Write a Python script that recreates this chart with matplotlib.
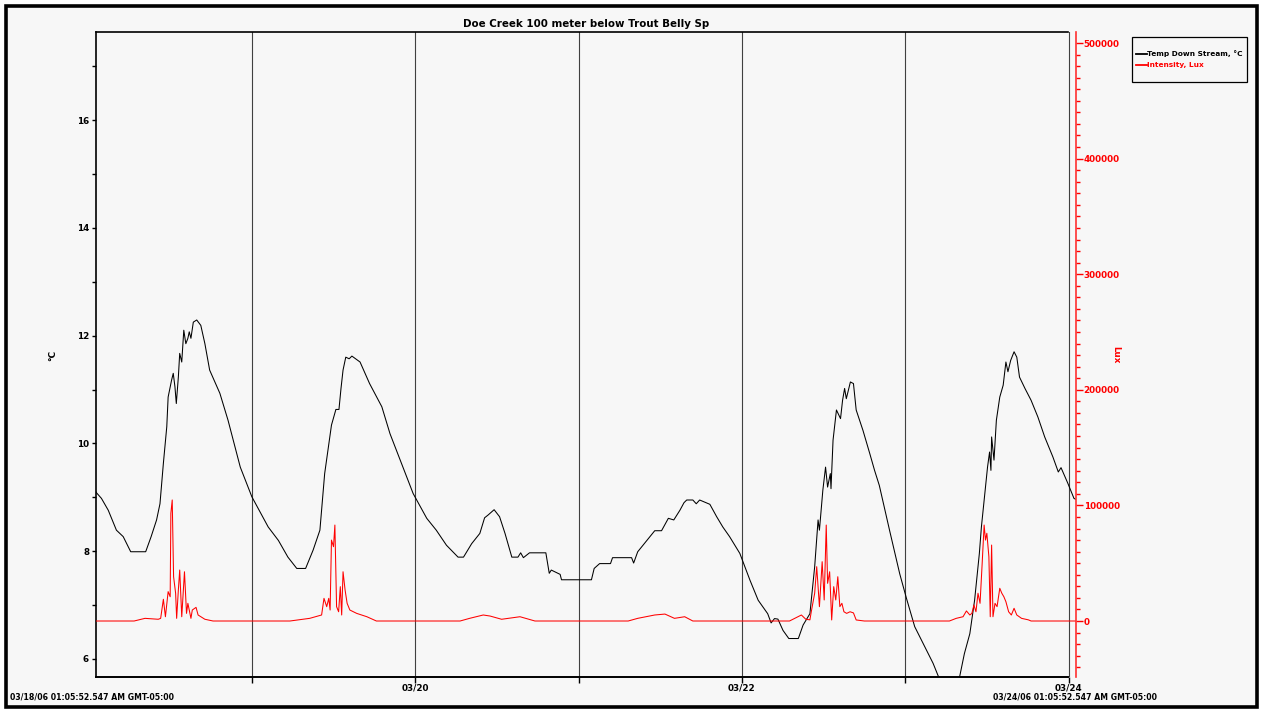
import matplotlib
matplotlib.use("Agg")
import matplotlib.pyplot as plt
import matplotlib.dates as mdates
from matplotlib.patches import Rectangle
from matplotlib.lines import Line2D
from matplotlib.ticker import MultipleLocator, FixedLocator, FuncFormatter
import numpy as np
import pandas as pd

# ---------------- data ----------------
title = "Doe Creek 100 meter below Trout Belly Sp"
start_label = "03/18/06 01:05:52.547 AM GMT-05:00"
end_label = "03/24/06 01:05:52.547 AM GMT-05:00"
start_time = pd.Timestamp("2006-03-18 01:05:52.547")
end_time = pd.Timestamp("2006-03-24 01:05:52.547")

temp_name = "Temp Down Stream, \u00b0C"
lux_name = "Intensity, Lux"

# hours since start, temperature (deg C)
temp_hours = [0.0, 0.1, 0.8, 1.8, 3.0, 4.0, 5.1, 7.3, 8.1, 8.9, 9.4, 9.9, 10.4, 10.6, 11.1, 11.35,
              11.6, 11.8, 12.1, 12.3, 12.6, 12.9, 13.2, 13.5, 13.7, 13.95, 14.3, 14.8, 15.4, 16.0,
              16.7, 18.2, 19.4, 21.2, 22.9, 25.3, 26.8, 28.2, 29.5, 30.8, 31.9, 32.9, 33.6, 34.6,
              35.25, 35.7, 36.0, 36.3, 36.7, 37.2, 37.6, 38.8, 40.2, 42.0, 43.2, 44.7, 46.6, 48.6,
              50.0, 51.5, 53.2, 54.0, 55.2, 56.4, 57.1, 57.6, 58.5, 59.3, 60.1, 61.1, 62.0, 62.4,
              62.8, 63.7, 66.1, 66.6, 66.9, 68.2, 68.4, 72.8, 73.2, 74.0, 75.6, 75.9, 78.7, 79.0,
              79.6, 81.4, 82.1, 83.1, 84.1, 84.9, 85.8, 86.4, 86.8, 87.7, 88.2, 88.7, 90.2, 91.2,
              92.1, 93.1, 94.6, 96.1, 97.3, 98.7, 99.2, 99.7, 100.2, 100.95, 101.8, 103.2, 103.9,
              104.9, 105.6, 106.1, 106.3, 106.8, 107.2, 107.5, 107.9, 108.0, 108.3, 108.8, 109.4,
              109.7, 110.0, 110.25, 110.85, 111.3, 111.7, 112.7, 113.7, 114.4, 115.1, 116.6, 118.1,
              119.1, 120.3, 121.8, 123.0, 123.8, 124.6, 126.0, 126.9, 127.6, 128.4, 129.1,
              129.8, 130.1, 130.5, 131.0, 131.3, 131.5, 131.6, 131.95, 132.3, 132.8, 133.3, 133.7,
              134.0, 134.4, 134.9, 135.3, 135.7, 136.5, 137.4, 138.4, 139.4, 140.6, 141.4, 141.8,
              142.8, 143.7, 144.0]
temp_vals = [9.10, 9.08, 8.98, 8.76, 8.39, 8.27, 7.99, 7.99, 8.27, 8.58, 8.88, 9.63, 10.31, 10.86,
             11.17, 11.30, 11.05, 10.74, 11.23, 11.67, 11.51, 12.10, 11.85, 11.95, 12.07, 11.95,
             12.25, 12.29, 12.19, 11.85, 11.36, 10.93, 10.43, 9.56, 9.01, 8.45, 8.20, 7.89, 7.68,
             7.68, 8.02, 8.39, 9.44, 10.34, 10.63, 10.63, 11.02, 11.36, 11.60, 11.57, 11.62, 11.51,
             11.11, 10.68, 10.18, 9.69, 9.07, 8.61, 8.39, 8.11, 7.89, 7.89, 8.14, 8.33, 8.62, 8.67,
             8.77, 8.64, 8.33, 7.89, 7.89, 7.97, 7.88, 7.97, 7.97, 7.59, 7.65, 7.57, 7.47, 7.47,
             7.68, 7.77, 7.77, 7.88, 7.88, 7.78, 7.99, 8.27, 8.38, 8.38, 8.61, 8.58, 8.76, 8.90,
             8.95, 8.95, 8.88, 8.95, 8.87, 8.64, 8.45, 8.27, 7.96, 7.46, 7.09, 6.84, 6.67, 6.75,
             6.74, 6.53, 6.38, 6.38, 6.63, 6.84, 7.71, 8.58, 8.39, 9.13, 9.56, 9.19, 9.44, 9.16,
             10.06, 10.62, 10.46, 10.80, 11.02, 10.83, 11.14, 11.11, 10.62, 10.24, 9.81, 9.50,
             9.22, 8.39, 7.58, 7.12, 6.60, 6.22, 5.92, 5.67, 5.45, 5.40, 5.67, 6.10, 6.47,
             7.09, 7.96, 8.45, 8.95, 9.56, 9.84, 9.50, 10.12, 9.69, 10.43, 10.86, 11.08, 11.51,
             11.33, 11.54, 11.70, 11.60, 11.23, 11.02, 10.80, 10.49, 10.12, 9.75, 9.47, 9.55,
             9.26, 8.98, 8.96]

# hours since start, light intensity (lux)
lux_hours = [0.0, 5.6, 7.2, 9.15, 9.5, 9.9, 10.2, 10.6, 10.9, 11.0, 11.2, 11.4, 11.7, 11.85, 12.1,
             12.3, 12.6, 13.0, 13.3, 13.5, 13.95, 14.15, 14.7, 15.0, 16.0, 17.2, 28.5, 31.4, 33.15,
             33.5, 33.9, 34.2, 34.4, 34.6, 34.9, 35.1, 35.35, 35.65, 35.9, 36.1, 36.3, 36.6, 36.9,
             37.3, 38.3, 39.8, 41.2, 53.5, 54.9, 56.9, 57.9, 59.6, 62.3, 64.5, 78.2, 79.6, 82.1,
             83.6, 85.0, 86.5, 87.7, 101.9, 103.65, 104.3, 104.9, 105.1, 105.6, 105.9, 106.3,
             106.7, 107.0, 107.3, 107.5, 107.8, 108.1, 108.4, 108.7, 109.0, 109.3, 109.6, 109.9,
             110.3, 110.8, 111.3, 111.7, 112.9, 125.4, 126.4, 127.4, 127.9, 128.4, 128.7, 129.0,
             129.3, 129.6, 129.9, 130.2, 130.5, 130.7, 130.9, 131.2, 131.4, 131.6, 131.8, 132.1,
             132.4, 132.8, 133.1, 133.4, 133.7, 134.1, 134.5, 134.9, 135.3, 136.0, 137.0, 137.4,
             144.0]
lux_vals = [0, 0, 2300, 1500, 2300, 18800, 3700, 25400, 21000, 93200, 104700, 38300, 24000, 2300,
            26800, 44100, 3700, 42600, 6600, 15300, 2300, 9500, 11800, 5200, 1500, 0, 0, 2300, 5200,
            19600, 12400, 19600, 9500, 70000, 64300, 83000, 12400, 8000, 29700, 5200, 42600, 26800,
            15300, 9500, 6600, 3700, 0, 0, 2300, 5200, 4300, 1500, 3700, 0, 0, 2300, 5200, 6000,
            2300, 3700, 0, 0, 5200, 1500, 1000, 8000, 24000, 47000, 12400, 51300, 18200, 83000,
            32600, 42600, 900, 29700, 18200, 38300, 12400, 15300, 8000, 6600, 8000, 7000, 900, 0,
            0, 2300, 3700, 8700, 5200, 6600, 13800, 8000, 24000, 15300, 48400, 83000, 70000, 75900,
            55600, 3700, 65700, 3700, 15300, 12400, 28300, 24000, 21000, 16700, 8000, 5200, 11000,
            5200, 2300, 1000, 0, 0]

temp_yticks = [6, 8, 10, 12, 14, 16]
lux_yticks = [0, 100000, 200000, 300000, 400000, 500000]

# ---------------- figure ----------------
W, H = 1266, 711
BG = "#f7f7f7"
fig = plt.figure(figsize=(W / 100, H / 100), dpi=100, facecolor="white")
plt.rcParams["font.family"] = ["DejaVu Sans"]


def fx(x):
    return x / W


def fy(y):
    return 1 - y / H


# outer frame
fig.patches.append(Rectangle((fx(6), fy(707)), fx(1257) - fx(6), fy(6) - fy(707),
                             transform=fig.transFigure, facecolor=BG, edgecolor="black",
                             linewidth=2.6, zorder=-10))

L, R, T, B = 96, 1076, 32, 677
ax = fig.add_axes([fx(L), fy(B), fx(R) - fx(L), fy(T) - fy(B)])
ax.set_facecolor(BG)

t_temp = start_time + pd.to_timedelta(np.array(temp_hours), unit="h")
t_lux = start_time + pd.to_timedelta(np.array(lux_hours), unit="h")

ax.plot(t_temp, temp_vals, color="black", lw=0.75, zorder=3)
ax.set_xlim(start_time, end_time)
ax.set_ylim(5.666, 17.633)

# spines
for s in ["top", "right", "bottom"]:
    ax.spines[s].set_visible(False)
ax.spines["left"].set_linewidth(1.2)
frame_frac = (1068 - L) / (R - L)
ax.plot([0, frame_frac], [1, 1], transform=ax.transAxes, color="black", lw=1.2, clip_on=False, zorder=5)
ax.plot([0, frame_frac], [0, 0], transform=ax.transAxes, color="black", lw=1.4, clip_on=False, zorder=5)

# x axis: midnight grid lines, labels on even days
midnights = pd.date_range("2006-03-19", "2006-03-24", freq="D")
ax.xaxis.set_major_locator(FixedLocator(mdates.date2num(midnights)))


def xfmt(v, pos):
    d = mdates.num2date(v)
    return "%02d/%02d" % (d.month, d.day) if d.day % 2 == 0 else ""


ax.xaxis.set_major_formatter(FuncFormatter(xfmt))
ax.grid(axis="x", color="#404040", lw=0.8)
ax.tick_params(axis="x", direction="out", length=4, width=1, pad=1,
               labelsize=6.3, colors="black")
for lab in ax.get_xticklabels():
    lab.set_fontweight("bold")

# left y axis
ax.set_yticks(temp_yticks)
ax.yaxis.set_minor_locator(MultipleLocator(1))
ax.tick_params(axis="y", which="both", direction="out", length=3, width=1, pad=2,
               labelsize=6.3)
for lab in ax.get_yticklabels():
    lab.set_fontweight("bold")
ax.set_ylabel("\u00b0C", fontsize=6.5, fontweight="bold")
ax.yaxis.set_label_coords((57 - L) / (R - L), (B - 355) / (B - T))

# right (lux) axis
ax2 = ax.twinx()
ax2.patch.set_visible(False)
ax2.plot(t_lux, lux_vals, color="#ff0000", lw=0.75, zorder=2)
ax2.set_ylim(-48440, 509520)
for s in ["top", "left", "bottom"]:
    ax2.spines[s].set_visible(False)
ax2.spines["right"].set_color("#ff3030")
ax2.spines["right"].set_linewidth(1.2)
ax2.set_yticks(lux_yticks)
ax2.yaxis.set_minor_locator(MultipleLocator(10000))
ax2.tick_params(axis="y", which="major", direction="out", length=5, width=1, pad=0.5,
                labelsize=6.3, colors="#ff0000")
ax2.tick_params(axis="y", which="minor", direction="out", length=3, width=1, colors="#ff0000")
ax2.yaxis.set_major_formatter(FuncFormatter(lambda v, p: "%d" % v))
for lab in ax2.get_yticklabels():
    lab.set_fontweight("bold")
ax2.set_ylabel("Lux", fontsize=6.3, fontweight="bold", color="#ff0000", rotation=270)
ax2.yaxis.set_label_coords((1120 - L) / (R - L), (B - 355) / (B - T))

# title
fig.text(fx(586), fy(24), title, ha="center", va="center", fontsize=7.4, fontweight="bold")

# range labels
fig.text(fx(10), fy(697), start_label, ha="left", va="center", fontsize=5.6, fontweight="bold")
fig.text(fx(1075), fy(697), end_label, ha="center", va="center", fontsize=5.6, fontweight="bold")

# legend box
fig.patches.append(Rectangle((fx(1132), fy(82)), fx(1247) - fx(1132), fy(37) - fy(82),
                             transform=fig.transFigure, facecolor=BG, edgecolor="black",
                             linewidth=0.9, zorder=5))
for yy, name, col in [(54, temp_name, "black"), (65, lux_name, "#ff0000")]:
    fig.lines.append(Line2D([fx(1136), fx(1147)], [fy(yy), fy(yy)], transform=fig.transFigure,
                            color=col, lw=1.3, zorder=6))
    fig.text(fx(1147), fy(yy), name, ha="left", va="center", fontsize=5.3,
             fontweight="bold", color=col, zorder=6)

fig.savefig("out.png", dpi=100, facecolor="white")
